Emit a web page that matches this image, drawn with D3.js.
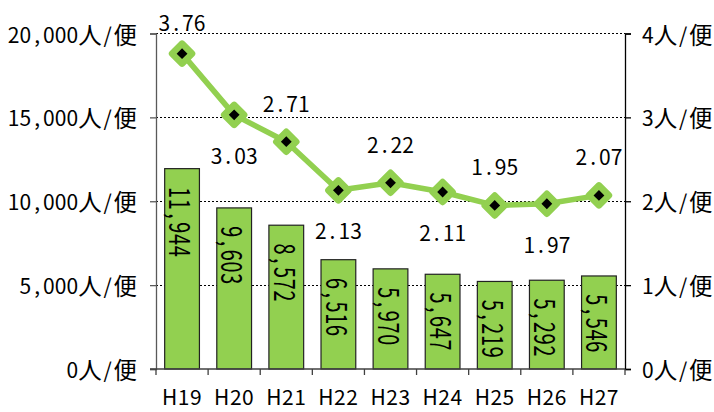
<!DOCTYPE html>
<html>
<head>
<meta charset="utf-8">
<script src="https://cdn.jsdelivr.net/npm/d3@7/dist/d3.min.js"></script>
<style>
  html, body { margin: 0; padding: 0; background: #fff; }
  svg { display: block; }
  text { font-family: "Noto Sans CJK JP", "DejaVu Sans", sans-serif; fill: #000; }
</style>
</head>
<body>
<svg id="chart" width="714" height="412"></svg>
<script>
// ---- data ----
const categories = ["H19", "H20", "H21", "H22", "H23", "H24", "H25", "H26", "H27"];
const passengers = [11944, 9603, 8572, 6516, 5970, 5647, 5219, 5292, 5546];   // 人/便 (left axis, bars)
const perFlight  = [3.76, 3.03, 2.71, 2.13, 2.22, 2.11, 1.95, 1.97, 2.07];    // 人/便 (right axis, line)
const leftTicks  = [0, 5000, 10000, 15000, 20000];
const rightTicks = [0, 1, 2, 3, 4];

// ---- layout ----
const plot = { left: 156, right: 625, top: 33.5, bottom: 369 };
const green = "#92D050";
const cell = 11.75;        // half-width cell
const asciiSize = 21;
const cjkSize = 23.5;

const svg = d3.select("#chart");

const x = d3.scaleBand().domain(categories).range([plot.left, plot.right]).padding(0);
const yL = d3.scaleLinear().domain([0, 20000]).range([plot.bottom, plot.top]);
const yR = d3.scaleLinear().domain([0, 4]).range([plot.bottom, plot.top]);
const bw = x.bandwidth();
const barW = bw * 0.667;
const fmt = d3.format(",");

// gothic-style monospaced text: half-width cells for ASCII, double cells for CJK
function mono(sel, str, ax, anchor, opt) {
  const o = Object.assign({ cell: cell, a: asciiSize, c: cjkSize }, opt || {});
  const chars = Array.from(str);
  const wide = chars.map(ch => ch.charCodeAt(0) > 0x2E80);
  const cells = wide.map(w => (w ? 2 : 1) * o.cell);
  const total = d3.sum(cells);
  let acc = anchor === "end" ? ax - total : anchor === "middle" ? ax - total / 2 : ax;
  sel.attr("text-anchor", "middle");
  chars.forEach((ch, k) => {
    sel.append("tspan")
      .attr("x", (acc + cells[k] / 2).toFixed(2))
      .attr("font-size", wide[k] ? o.c : o.a)
      .text(ch);
    acc += cells[k];
  });
}

// gridlines
svg.append("g")
  .selectAll("line")
  .data(leftTicks.filter(d => d > 0))
  .join("line")
  .attr("x1", plot.left).attr("x2", plot.right)
  .attr("y1", d => yL(d)).attr("y2", d => yL(d))
  .attr("stroke", "#000").attr("stroke-width", 1)
  .attr("stroke-dasharray", "2,2")
  .attr("shape-rendering", "crispEdges");

// bars
svg.append("g")
  .selectAll("rect")
  .data(passengers)
  .join("rect")
  .attr("x", (d, i) => x(categories[i]) + (bw - barW) / 2)
  .attr("y", d => yL(d))
  .attr("width", barW)
  .attr("height", d => yL(0) - yL(d))
  .attr("fill", green)
  .attr("stroke", "#222")
  .attr("stroke-width", 1.2);

// bar labels (rotated, tall narrow digits)
const rs = 0.7;
svg.append("g")
  .selectAll("text")
  .data(passengers)
  .join("text")
  .attr("transform", (d, i) => `translate(${x(categories[i]) + bw / 2},${yL(d) + 18}) rotate(90) scale(${rs},1)`)
  .attr("dominant-baseline", "central")
  .each(function (d) { mono(d3.select(this), fmt(d), 0, "start", { cell: cell / rs, a: 28.5 }); });

// left axis
const axL = d3.axisLeft(yL).tickValues(leftTicks).tickSize(6).tickFormat("");
const gL = svg.append("g").attr("transform", `translate(${plot.left},0)`).call(axL);
gL.select(".domain").attr("stroke", "#595959").attr("stroke-width", 1.3);
gL.selectAll(".tick line").attr("stroke", "#595959").attr("stroke-width", 1.3);
svg.append("g")
  .selectAll("text")
  .data(leftTicks)
  .join("text")
  .attr("y", d => yL(d))
  .attr("dominant-baseline", "central")
  .each(function (d) { mono(d3.select(this), fmt(d) + "人/便", plot.left - 19, "end"); });

// right axis
const axR = d3.axisRight(yR).tickValues(rightTicks).tickSize(6).tickFormat("");
const gR = svg.append("g").attr("transform", `translate(${plot.right},0)`).call(axR);
gR.select(".domain").attr("stroke", "#000").attr("stroke-width", 1.3);
gR.selectAll(".tick line").attr("stroke", "#000").attr("stroke-width", 1.3);
svg.append("g")
  .selectAll("text")
  .data(rightTicks)
  .join("text")
  .attr("y", d => yR(d))
  .attr("dominant-baseline", "central")
  .each(function (d) { mono(d3.select(this), d + "人/便", plot.right + 17, "start"); });

// bottom axis line + boundary ticks
svg.append("line")
  .attr("x1", plot.left - 6).attr("x2", plot.right)
  .attr("y1", plot.bottom).attr("y2", plot.bottom)
  .attr("stroke", "#404040").attr("stroke-width", 1.3);
const bounds = categories.map(c => x(c)).concat([plot.right]);
svg.append("g")
  .selectAll("line")
  .data(bounds)
  .join("line")
  .attr("x1", d => d).attr("x2", d => d)
  .attr("y1", plot.bottom).attr("y2", plot.bottom + 6)
  .attr("stroke", "#404040").attr("stroke-width", 1.3);
svg.append("g")
  .selectAll("text")
  .data(categories)
  .join("text")
  .attr("x", d => x(d) + bw / 2)
  .attr("y", plot.bottom + 36)
  .attr("text-anchor", "middle")
  .attr("font-size", asciiSize)
  .attr("letter-spacing", 0.5)
  .text(d => d);

// line
const line = d3.line()
  .x((d, i) => x(categories[i]) + bw / 2)
  .y(d => yR(d));
svg.append("path")
  .datum(perFlight)
  .attr("d", line)
  .attr("fill", "none")
  .attr("stroke", green)
  .attr("stroke-width", 5.5)
  .attr("stroke-linejoin", "round");

// markers
const diamond = d3.symbol().type(d3.symbolSquare).size(200);
svg.append("g")
  .selectAll("path")
  .data(perFlight)
  .join("path")
  .attr("transform", (d, i) => `translate(${x(categories[i]) + bw / 2},${yR(d)}) rotate(45)`)
  .attr("d", diamond)
  .attr("fill", "#000")
  .attr("stroke", green)
  .attr("stroke-width", 6.5)
  .attr("stroke-linejoin", "round");

// line labels, alternating above / below
svg.append("g")
  .selectAll("text")
  .data(perFlight)
  .join("text")
  .attr("y", (d, i) => i % 2 === 0 ? Math.max(22, yR(d) - 39) : yR(d) + 40)
  .attr("dominant-baseline", "central")
  .each(function (d, i) { mono(d3.select(this), d.toFixed(2), x(categories[i]) + bw / 2, "middle"); });
</script>
</body>
</html>
